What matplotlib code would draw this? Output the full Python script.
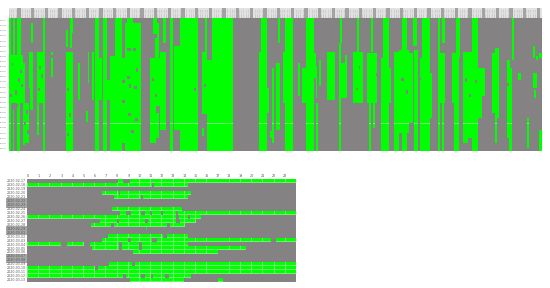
import numpy as np
import matplotlib
matplotlib.use('Agg')
import matplotlib.pyplot as plt
from matplotlib.colors import ListedColormap
from matplotlib.patches import Rectangle
from matplotlib.transforms import blended_transform_factory

GREEN = '#00ff00'
PALE = '#70f070'
GRAY = '#848282'

dates = ['2020-02-17','2020-02-18','2020-02-19','2020-02-20','2020-02-21','2020-02-22','2020-02-23',
         '2020-02-24','2020-02-25','2020-02-26','2020-02-27','2020-02-28','2020-02-29','2020-03-01',
         '2020-03-02','2020-03-03','2020-03-04','2020-03-05','2020-03-06','2020-03-07','2020-03-08',
         '2020-03-09','2020-03-10','2020-03-11','2020-03-12','2020-03-13']
weekend_rows = [5, 6, 12, 13, 19, 20]
hours = list(range(24))

# bottom panel: active hour spans per date row
day_active = {
    0: [(8.1, 8.6), (9.2, 24)],
    1: [(0, 11.2), (11.4, 14.4)],
    3: [(6.7, 14.7)],
    4: [(7.8, 14.4)],
    7: [(7.6, 13.9)],
    8: [(8.4, 24)],
    9: [(0, 15.5)],
    10: [(6.5, 15.1)],
    11: [(5.8, 14.1)],
    12: [(10.65, 10.8)],
    14: [(7.3, 14.4)],
    15: [(6.7, 21.8), (22.3, 24)],
    16: [(0, 3.0), (3.6, 5.1), (5.6, 14.4)],
    17: [(5.9, 19.6)],
    18: [(9.5, 17.0)],
    21: [(7.4, 24)],
    22: [(0, 24)],
    23: [(0, 24)],
    24: [(0, 8.6), (8.9, 14.7)],
    25: [(9.2, 14.0), (17.1, 17.5)],
}
day_gaps = [(8, 8.9, 9.3), (8, 10.2, 10.5), (8, 11.0, 11.2), (8, 12.0, 12.2), (8, 13.3, 13.5), (10, 8.0, 8.3), (10, 10.5, 10.9), (10, 13.4, 13.7), (11, 7.5, 7.8),
            (11, 12.5, 12.8), (15, 9.0, 9.3), (15, 11.2, 11.6), (16, 8.2, 8.5), (16, 10.0, 10.3), (17, 8.2, 8.5), (17, 10.0, 10.3),
            (21, 9.4, 9.7), (24, 10.2, 10.5), (24, 12.4, 12.7), (24, 11.1, 11.3), (3, 8.2, 8.4),
            (4, 10.2, 10.4), (22, 6.1, 6.4), (14, 12.2, 12.5), (9, 13.4, 13.6), (9, 14.4, 14.6)]

# top panel: active spans as (col from, col to, row from, row to)
top_spans = [
    (0,2,0,133),(4,6,0,85),(4,5,92,133),(8,12,0,38),(8,11,85,133),(0,14,37,85),(14,16,45,127),(14,20,85,125),
    (20,24,34,70),(22,24,5,25),(21,24,70,92),(28,36,34,85),(34,36,0,133),(28,30,85,117),(42,44,34,37),(42,44,40,59),
    (57,64,34,133),(57,59,12,29),(61,64,0,15),(61,63,15,30),(69,71,45,82),(77,79,93,104),(79,80,34,65),(83,85,34,82),
    (86,90,0,133),(90,93,40,82),(94,98,0,133),(98,101,62,82),(101,106,38,133),(106,113,0,133),(106,116,40,82),(113,118,85,125),
    (116,132,5,133),(118,124,0,5),(144,148,0,16),(148,150,5,25),(146,150,20,40),(141,151,40,88),(141,147,88,125),(147,150,95,120),
    (151,157,34,112),(154,157,0,25),(161,164,0,133),(165,171,28,112),(171,187,0,133),(183,189,34,62),(183,186,65,82),(187,189,0,133),
    (193,198,34,96),(196,198,0,34),(198,203,42,96),(203,224,0,133),(198,224,82,133),(193,195,110,118),
    (252,258,0,133),(250,256,34,133),(258,260,70,95),(263,265,50,125),(269,271,0,25),(267,271,45,112),(261,265,113,120),
    (276,284,0,133),(274,284,34,85),(297,305,0,133),(289,291,45,78),(293,297,50,85),(297,307,35,60),(307,308,48,80),(307,309,85,133),(310,312,42,68),
    (318,326,34,82),(331,333,0,25),(330,332,25,133),(332,336,45,80),(336,338,37,80),(348,350,0,34),(344,352,34,85),(345,348,60,80),
    (351,354,34,85),(362,364,0,34),(358,368,35,85),(360,362,85,133),(364,366,85,110),(374,380,0,133),(372,380,40,133),(380,382,50,85),
    (385,390,34,133),(390,400,32,115),(393,398,0,133),(400,404,35,105),(404,408,0,28),(405,409,32,133),(413,421,0,133),(411,420,40,133),(421,423,55,100),
    (429,431,0,133),(433,436,0,25),(429,436,35,85),(433,435,85,133),(447,451,0,40),(443,446,35,85),(445,450,35,133),
    (454,463,34,120),(454,459,80,125),(463,469,0,133),(469,473,50,100),(469,476,50,78),(483,486,35,95),(486,490,30,100),(486,488,95,125),
    (498,501,42,120),(500,503,50,133),(503,505,0,42),(509,512,55,62),(518,520,100,130),(524,526,28,40),(524,528,55,70),(527,529,38,42),(525,527,72,80),(530,533,112,133),(530,533,35,40),
]
# inactive holes inside the active spans: (col, row, width, height)
top_holes = [
    (3,45,1,3),(9,60,2,4),(11,52,2,3),(6,72,2,5),(1,76,2,3),(12,66,2,3),(7,86,2,3),(17,92,2,4),(15,104,2,3),(18,112,2,4),(30,48,2,3),(32,56,2,4),
    (29,70,2,3),(26,60,1,2),(58,70,2,3),(60,95,2,4),(58,115,2,3),(113,62,3,3),(118,30,4,3),(124,30,3,3),(120,66,2,4),(125,68,3,3),(119,95,3,3),(126,100,3,3),
    (122,112,3,3),(127,50,2,4),(118,58,3,3),(143,60,2,3),(146,76,2,3),(185,70,2,3),(195,66,2,3),(367,55,2,3),(392,60,3,3),(397,72,2,4),(410,60,2,2),(440,45,2,2),
    (347,70,2,2),(456,60,2,4),(460,76,2,3),(466,62,2,3),(498,65,2,3),(350,48,1,3),(440,60,3,3),
]
top_pale_rows = [105]
col_count, row_count = 533, 133
group_count = 39
steps_per_hour = 12
subrows_per_day = 4

top_grid = np.zeros((row_count, col_count))
for c0, c1, r0, r1 in top_spans:
    top_grid[r0:r1, c0:c1] = 1
for c, r, w, h in top_holes:
    top_grid[r:r+h, c:c+w] = 0
for r in top_pale_rows:
    top_grid[r, top_grid[r] > 0] = 2

day_grid = np.zeros((len(dates) * subrows_per_day, 24 * steps_per_hour))
for row, spans in day_active.items():
    for a, b in spans:
        day_grid[row * subrows_per_day:(row + 1) * subrows_per_day, int(a * steps_per_hour):int(b * steps_per_hour)] = 1
for row, a, b in day_gaps:
    day_grid[row * subrows_per_day:(row + 1) * subrows_per_day, int(a * steps_per_hour):int(b * steps_per_hour)] = 0
# pale cell edges show on active cells only
active = day_grid > 0
edges = np.zeros_like(active)
edges[:, ::steps_per_hour] = True
edges[subrows_per_day - 1::subrows_per_day, :] = True
day_grid[active & edges] = 2

W, H = 550, 288
fig = plt.figure(figsize=(W / 100, H / 100), dpi=100)
cmap = ListedColormap([GRAY, GREEN, PALE])

# ---- top panel
ax = fig.add_axes([9 / W, 1 - 151 / H, 533 / W, 133 / H])
ax.imshow(top_grid, cmap=cmap, vmin=0, vmax=2, aspect='auto', interpolation='nearest', extent=(0, col_count, row_count, 0))
for s in ax.spines.values():
    s.set_visible(False)
period = col_count / group_count
ax.set_xticks([])
ax.set_yticks((np.arange(26) + 0.5) * row_count / 26)
ax.set_yticklabels(dates, fontsize=1, color='#777777')
ax.tick_params(axis='y', length=1, width=0.2, color='#aaaaaa', pad=0.3)
tr = blended_transform_factory(ax.transData, ax.transAxes)
ax.add_patch(Rectangle((0, 1.0), col_count, 10 / 133, transform=tr, color='#e2e2e2', clip_on=False, lw=0))
for g in range(group_count):
    ax.add_patch(Rectangle(((g + 0.6) * period, 1.0), 3.5, 10 / 133, transform=tr, color='#a4a4a4', clip_on=False, lw=0))
for i in range(group_count * 6):
    ax.text((i + 0.5) * col_count / (group_count * 6), 1.004, dates[i % 26], transform=tr, fontsize=1.05, rotation=90,
            ha='center', va='bottom', color='#999999')

# ---- bottom panel
ax2 = fig.add_axes([26.7 / W, 1 - 281.7 / H, 268.3 / W, 103 / H])
ax2.imshow(day_grid, cmap=cmap, vmin=0, vmax=2, aspect='auto', interpolation='nearest', extent=(0, 24, 26, 0))
for s in ax2.spines.values():
    s.set_visible(False)
ax2.xaxis.tick_top()
ax2.set_xticks(np.arange(24) + 0.1)
ax2.set_xticklabels(hours, fontsize=2.4, color='#555555')
ax2.set_yticks(np.arange(26) + 0.5)
ax2.set_yticklabels(dates, fontsize=2.3, color='#555555')
ax2.tick_params(axis='both', length=0, pad=0.6)
for i, lab in enumerate(ax2.get_yticklabels()):
    if i in weekend_rows:
        lab.set_bbox(dict(facecolor='#a6a6a6', edgecolor='none', pad=0.5))

fig.savefig('out.png', dpi=100, facecolor='white')
